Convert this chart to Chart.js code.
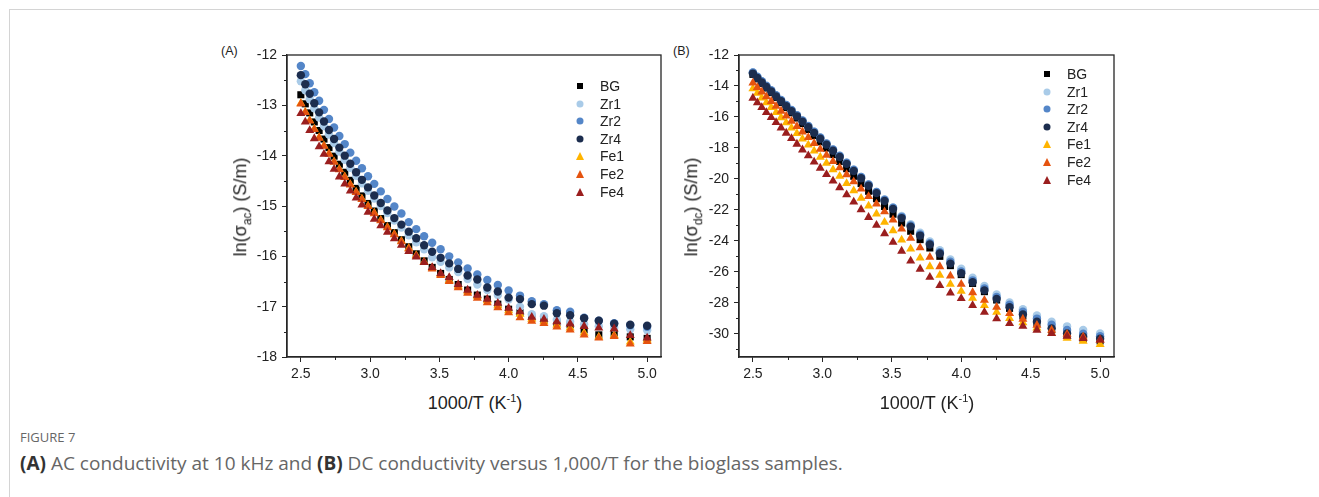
<!DOCTYPE html>
<html>
<head>
<meta charset="utf-8">
<script src="https://cdn.jsdelivr.net/npm/chart.js@4.4.1/dist/chart.umd.min.js"></script>
<style>
    body { margin: 0; background: #fff; width: 1319px; height: 497px; position: relative; overflow: hidden; font-family: "Liberation Sans", Arial, sans-serif; color: #222; }
    .frame { position: absolute; left: 9px; top: 9px; width: 1320px; height: 500px; border-top: 1px solid #d4d4d4; border-left: 1px solid #d4d4d4; }
    canvas { position: absolute; }
    .panel-tag { position: absolute; top: 44px; font-size: 12.5px; }
    .ytitle { position: absolute; font-size: 18px; white-space: nowrap; transform: translate(-50%, -50%) rotate(-90deg); }
    .xtitle { position: absolute; font-size: 18px; white-space: nowrap; transform: translate(-50%, -50%); }
    .ytitle sub { font-size: 12px; }
    .xtitle sup { font-size: 11px; }
    .legend { position: absolute; font-size: 14px; }
    .legend .row { position: absolute; left: 0; height: 18px; line-height: 18px; white-space: nowrap; }
    .legend .mk { position: absolute; top: 50%; transform: translate(-50%, -50%); }
    .legend .txt { position: absolute; top: 0; }
    .caption-head { position: absolute; left: 20px; top: 428px; font-family: "Open Sans", sans-serif; font-size: 13px; color: #666; }
    .caption { position: absolute; left: 20px; top: 450px; font-family: "Open Sans", sans-serif; font-size: 19px; color: #666; white-space: nowrap; }
    .caption b { color: #333; }
</style>
</head>
<body>
<div class="frame"></div>

<div class="panel-tag" style="left:221px">(A)</div>
<div class="panel-tag" style="left:673px">(B)</div>

<canvas id="chartA" width="475" height="350" style="left:200px; top:40px"></canvas>
<canvas id="chartB" width="475" height="350" style="left:660px; top:40px"></canvas>

<div class="ytitle" style="left:242px; top:207px">ln(σ<sub>ac</sub>) (S/m)</div>
<div class="ytitle" style="left:693px; top:207px">ln(σ<sub>dc</sub>) (S/m)</div>
<div class="xtitle" style="left:475px; top:403px">1000/T (K<sup>-1</sup>)</div>
<div class="xtitle" style="left:927px; top:403px">1000/T (K<sup>-1</sup>)</div>

<div class="legend" id="legendA" style="left:580px; top:77px"></div>
<div class="legend" id="legendB" style="left:1047px; top:65px"></div>

<div class="caption-head">FIGURE 7</div>
<div class="caption"><b>(A)</b> AC conductivity at 10 kHz and <b>(B)</b> DC conductivity versus 1,000/T for the bioglass samples.</div>

<script>
// 1000/T values (K^-1)
const invT = [2.500, 2.532, 2.564, 2.597, 2.632, 2.667, 2.703, 2.740, 2.778, 2.817,
              2.857, 2.899, 2.941, 2.985, 3.030, 3.077, 3.125, 3.175, 3.226, 3.279,
              3.333, 3.390, 3.448, 3.509, 3.571, 3.636, 3.704, 3.774, 3.846, 3.922,
              4.000, 4.082, 4.167, 4.255, 4.348, 4.444, 4.545, 4.651, 4.762, 4.878, 5.000];

const sampleNames = ['BG', 'Zr1', 'Zr2', 'Zr4', 'Fe1', 'Fe2', 'Fe4'];

// (A) ln(sigma_ac) at 10 kHz
const acBG  = [-12.79,-12.97,-13.15,-13.33,-13.50,-13.67,-13.84,-14.01,-14.17,-14.33,
               -14.49,-14.65,-14.80,-14.95,-15.10,-15.25,-15.39,-15.53,-15.67,-15.81,
               -15.95,-16.09,-16.22,-16.34,-16.46,-16.56,-16.67,-16.77,-16.85,-16.95,
               -17.05,-17.12,-17.21,-17.27,-17.32,-17.36,-17.46,-17.56,-17.53,-17.60,-17.63];
const acZr1 = [-12.52,-12.70,-12.88,-13.06,-13.24,-13.41,-13.58,-13.75,-13.92,-14.08,
               -14.24,-14.40,-14.55,-14.70,-14.85,-15.00,-15.14,-15.29,-15.43,-15.58,
               -15.72,-15.86,-16.02,-16.11,-16.22,-16.31,-16.45,-16.56,-16.67,-16.77,
               -16.86,-17.00,-17.15,-17.19,-17.26,-17.30,-17.35,-17.39,-17.42,-17.45,-17.47];
const acZr2 = [-12.22,-12.38,-12.56,-12.74,-12.91,-13.09,-13.27,-13.44,-13.61,-13.77,
               -13.94,-14.10,-14.25,-14.41,-14.56,-14.71,-14.86,-15.01,-15.15,-15.32,
               -15.46,-15.60,-15.73,-15.86,-16.00,-16.12,-16.24,-16.36,-16.47,-16.57,
               -16.68,-16.78,-16.89,-16.95,-17.07,-17.10,-17.22,-17.28,-17.33,-17.37,-17.40];
const acZr4 = [-12.40,-12.58,-12.77,-12.96,-13.14,-13.32,-13.49,-13.67,-13.84,-14.00,
               -14.16,-14.33,-14.48,-14.63,-14.79,-14.94,-15.09,-15.24,-15.37,-15.51,
               -15.64,-15.78,-15.91,-16.03,-16.14,-16.25,-16.38,-16.46,-16.62,-16.70,
               -16.82,-16.85,-16.95,-16.98,-17.13,-17.17,-17.23,-17.28,-17.34,-17.36,-17.38];
const acFe1 = [-12.96,-13.13,-13.30,-13.47,-13.64,-13.80,-13.96,-14.12,-14.27,-14.42,
               -14.57,-14.72,-14.86,-15.00,-15.14,-15.28,-15.42,-15.56,-15.70,-15.84,
               -15.98,-16.11,-16.23,-16.36,-16.48,-16.59,-16.70,-16.79,-16.88,-16.98,
               -17.08,-17.15,-17.25,-17.30,-17.36,-17.42,-17.52,-17.60,-17.57,-17.70,-17.66];
const acFe2 = [-12.97,-13.14,-13.31,-13.48,-13.65,-13.81,-13.97,-14.13,-14.28,-14.43,
               -14.58,-14.73,-14.87,-15.01,-15.15,-15.29,-15.43,-15.57,-15.71,-15.85,
               -15.99,-16.12,-16.25,-16.38,-16.50,-16.62,-16.73,-16.83,-16.92,-17.02,
               -17.12,-17.22,-17.29,-17.33,-17.40,-17.46,-17.56,-17.62,-17.59,-17.74,-17.69];
const acFe4 = [-13.16,-13.33,-13.50,-13.66,-13.82,-13.97,-14.12,-14.27,-14.42,-14.56,
               -14.70,-14.84,-14.98,-15.12,-15.26,-15.39,-15.52,-15.65,-15.78,-15.90,
               -16.01,-16.12,-16.22,-16.34,-16.42,-16.56,-16.67,-16.77,-16.85,-16.93,
               -17.03,-17.10,-17.21,-17.25,-17.30,-17.34,-17.39,-17.42,-17.44,-17.57,-17.62];

// (B) ln(sigma_dc)
const dcBG  = [-13.25,-13.54,-13.83,-14.13,-14.43,-14.74,-15.07,-15.39,-15.73,-16.07,
               -16.43,-16.81,-17.20,-17.60,-18.01,-18.43,-18.87,-19.34,-19.83,-20.30,
               -20.80,-21.28,-21.78,-22.28,-22.85,-23.38,-23.92,-24.46,-25.00,-25.60,
               -26.18,-26.75,-27.28,-27.82,-28.36,-28.85,-29.32,-29.76,-30.10,-30.33,-30.46];
const dcZr1 = [-13.12,-13.42,-13.71,-14.01,-14.30,-14.61,-14.93,-15.24,-15.57,-15.90,
               -16.24,-16.59,-16.96,-17.34,-17.72,-18.11,-18.52,-18.96,-19.41,-19.88,
               -20.36,-20.84,-21.33,-21.84,-22.40,-22.93,-23.48,-24.04,-24.60,-25.20,
               -25.80,-26.38,-26.92,-27.46,-27.98,-28.42,-28.82,-29.22,-29.52,-29.76,-29.98];
const dcZr2 = [-13.12,-13.40,-13.69,-13.99,-14.28,-14.59,-14.91,-15.22,-15.55,-15.88,
               -16.22,-16.58,-16.95,-17.33,-17.71,-18.10,-18.51,-18.95,-19.41,-19.88,
               -20.36,-20.84,-21.35,-21.86,-22.45,-23.00,-23.58,-24.16,-24.74,-25.35,
               -25.98,-26.55,-27.08,-27.62,-28.12,-28.58,-29.02,-29.42,-29.76,-30.00,-30.16];
const dcZr4 = [-13.20,-13.48,-13.77,-14.07,-14.36,-14.67,-14.99,-15.30,-15.63,-15.96,
               -16.30,-16.66,-17.03,-17.41,-17.79,-18.18,-18.59,-19.03,-19.49,-19.96,
               -20.44,-20.92,-21.43,-21.94,-22.53,-23.08,-23.66,-24.24,-24.82,-25.47,
               -26.09,-26.67,-27.20,-27.75,-28.28,-28.76,-29.22,-29.65,-29.98,-30.19,-30.32];
const dcFe1 = [-14.18,-14.47,-14.77,-15.08,-15.39,-15.71,-16.04,-16.37,-16.71,-17.06,
               -17.42,-17.80,-18.19,-18.59,-18.99,-19.40,-19.83,-20.29,-20.76,-21.25,
               -21.75,-22.26,-22.80,-23.34,-23.94,-24.52,-25.10,-25.66,-26.22,-26.80,
               -27.25,-27.70,-28.17,-28.60,-29.00,-29.28,-29.62,-29.98,-30.28,-30.47,-30.68];
const dcFe2 = [-13.80,-14.09,-14.39,-14.69,-14.99,-15.30,-15.62,-15.94,-16.27,-16.61,
               -16.96,-17.32,-17.70,-18.08,-18.47,-18.87,-19.28,-19.72,-20.18,-20.65,
               -21.13,-21.61,-22.12,-22.64,-23.23,-23.83,-24.44,-25.06,-25.66,-26.27,
               -26.80,-27.34,-27.83,-28.28,-28.69,-29.05,-29.45,-29.76,-30.03,-30.20,-30.40];
const dcFe4 = [-14.78,-15.08,-15.39,-15.71,-16.03,-16.36,-16.70,-17.04,-17.39,-17.75,
               -18.12,-18.50,-18.90,-19.30,-19.71,-20.13,-20.56,-21.02,-21.49,-21.98,
               -22.48,-22.99,-23.53,-24.08,-24.66,-25.30,-25.82,-26.34,-26.88,-27.36,
               -27.72,-28.17,-28.60,-29.02,-29.33,-29.50,-29.76,-29.98,-30.15,-30.30,-30.40];

// tick labels
const xTicks = [2.5, 3.0, 3.5, 4.0, 4.5, 5.0];
const xMinorTicks = [2.75, 3.25, 3.75, 4.25, 4.75];
const yTicksA = [-18, -17, -16, -15, -14, -13, -12];
const yMinorA = [-17.5, -16.5, -15.5, -14.5, -13.5, -12.5];
const yTicksB = [-30, -28, -26, -24, -22, -20, -18, -16, -14, -12];
const yMinorB = [-31, -29, -27, -25, -23, -21, -19, -17, -15, -13];

// styles
const markerColors = ['#000000', '#a9cbe8', '#5486c8', '#1c2d4e', '#ffb400', '#e5530f', '#9a1e1e'];
const markerShapes = ['rect', 'circle', 'circle', 'circle', 'triangle', 'triangle', 'triangle'];
const markerRadius = { rect: 5, circle: 4.2, triangle: 5.2 };
const axisColor = '#262626';
const tickFont = { family: '"Liberation Sans", Arial, sans-serif', size: 14 };

const frameAndMinorTicks = {
    id: 'frameAndMinorTicks',
    afterDraw(chart, args, opts) {
        const { ctx, chartArea: a, scales } = chart;
        ctx.save();
        ctx.strokeStyle = axisColor;
        ctx.lineWidth = 1.3;
        ctx.strokeRect(a.left, a.top, a.right - a.left, a.bottom - a.top);
        ctx.lineWidth = 1;
        ctx.beginPath();
        opts.xMinor.forEach(v => {
            const px = Math.round(scales.x.getPixelForValue(v)) + 0.5;
            ctx.moveTo(px, a.bottom);
            ctx.lineTo(px, a.bottom + 3);
        });
        opts.yMinor.forEach(v => {
            const py = Math.round(scales.y.getPixelForValue(v)) + 0.5;
            ctx.moveTo(a.left, py);
            ctx.lineTo(a.left - 3, py);
        });
        ctx.stroke();
        ctx.restore();
    }
};

const makeDatasets = (seriesList) => seriesList.map((vals, i) => ({
    label: sampleNames[i],
    data: vals.map((v, k) => ({ x: invT[k], y: v })),
    pointStyle: markerShapes[i],
    pointRadius: markerRadius[markerShapes[i]],
    pointBackgroundColor: markerColors[i],
    pointBorderWidth: 0,
    showLine: false,
    order: seriesList.length - i
}));

const makeChart = (canvasId, seriesList, cfg) => {
    return new Chart(document.getElementById(canvasId), {
        type: 'scatter',
        data: { datasets: makeDatasets(seriesList) },
        plugins: [frameAndMinorTicks],
        options: {
            responsive: false,
            animation: false,
            devicePixelRatio: 1,
            layout: { padding: { top: 15, right: cfg.padRight, left: 0, bottom: 0 } },
            plugins: {
                legend: { display: false },
                tooltip: { enabled: false },
                frameAndMinorTicks: { xMinor: xMinorTicks, yMinor: cfg.yMinor }
            },
            scales: {
                x: {
                    type: 'linear',
                    min: 2.4,
                    max: 5.1,
                    afterBuildTicks: (scale) => { scale.ticks = xTicks.map(v => ({ value: v })); },
                    afterFit: (scale) => { scale.height = 33; },
                    grid: { drawOnChartArea: false, drawTicks: true, tickLength: 5, color: axisColor, tickWidth: 1 },
                    border: { display: true, color: axisColor, width: 1.3 },
                    ticks: {
                        font: tickFont,
                        color: '#222',
                        padding: 4,
                        maxRotation: 0,
                        callback: (value) => value.toFixed(1)
                    }
                },
                y: {
                    type: 'linear',
                    min: cfg.yMin,
                    max: cfg.yMax,
                    afterBuildTicks: (scale) => { scale.ticks = cfg.yTicks.map(v => ({ value: v })); },
                    afterFit: (scale) => { scale.width = cfg.yWidth; },
                    grid: { drawOnChartArea: false, drawTicks: true, tickLength: 5, color: axisColor, tickWidth: 1 },
                    border: { display: true, color: axisColor, width: 1.3 },
                    ticks: {
                        font: tickFont,
                        color: '#222',
                        padding: 5,
                        callback: (value) => String(value)
                    }
                }
            }
        }
    });
};

const renderLegend = (elId) => {
    const el = document.getElementById(elId);
    el.innerHTML = sampleNames.map((name, i) => {
        const c = markerColors[i];
        let mk;
        if (markerShapes[i] === 'rect') {
            mk = `<span class="mk" style="width:6px;height:6px;background:${c}"></span>`;
        } else if (markerShapes[i] === 'circle') {
            mk = `<span class="mk" style="width:7px;height:7px;border-radius:50%;background:${c}"></span>`;
        } else {
            mk = `<span class="mk" style="width:0;height:0;border-left:4.5px solid transparent;border-right:4.5px solid transparent;border-bottom:8px solid ${c}"></span>`;
        }
        return `<div class="row" style="top:${(i * 17.6).toFixed(1)}px">${mk}<span class="txt" style="left:20px">${name}</span></div>`;
    }).join('');
};

makeChart('chartA', [acBG, acZr1, acZr2, acZr4, acFe1, acFe2, acFe4], {
    yMin: -18, yMax: -12, yTicks: yTicksA, yMinor: yMinorA, yWidth: 87, padRight: 14
});
makeChart('chartB', [dcBG, dcZr1, dcZr2, dcZr4, dcFe1, dcFe2, dcFe4], {
    yMin: -31.5, yMax: -12, yTicks: yTicksB, yMinor: yMinorB, yWidth: 79, padRight: 21
});

renderLegend('legendA');
renderLegend('legendB');
</script>
</body>
</html>
